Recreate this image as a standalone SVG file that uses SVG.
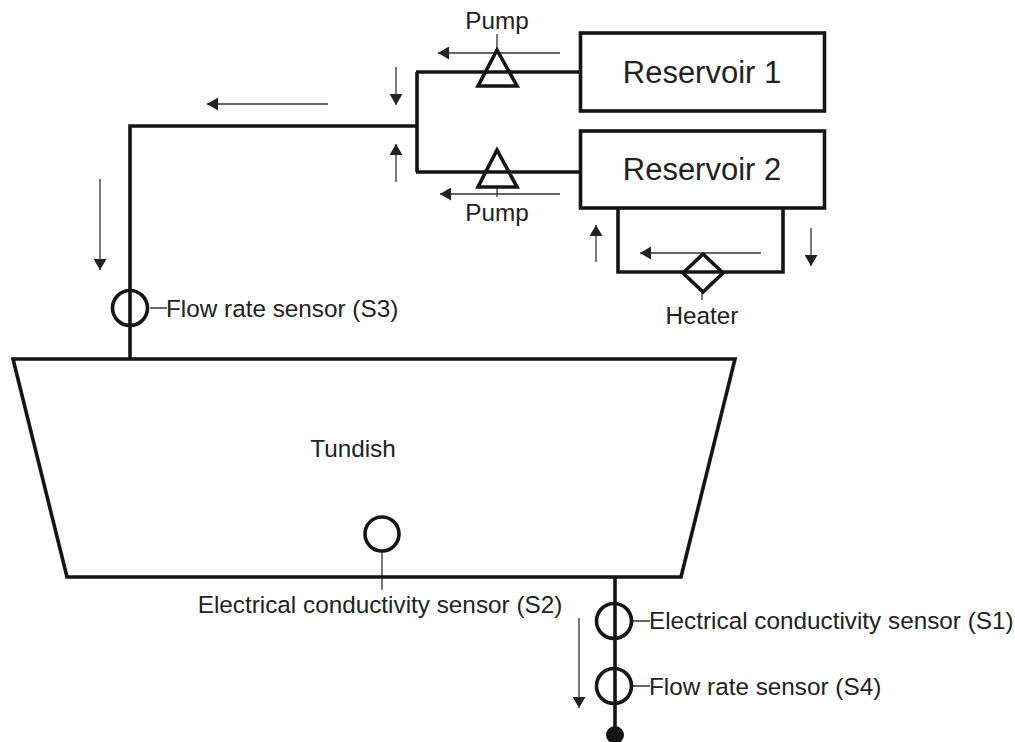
<svg xmlns="http://www.w3.org/2000/svg" width="1015" height="742" viewBox="0 0 1015 742">
<style>
text{font-family:"Liberation Sans",Arial,sans-serif;fill:#222}
.s{font-size:24.300px}
.r{font-size:31px}
.pipe{fill:none;stroke:#151515;stroke-width:3.600}
.box{fill:#fff;stroke:#151515;stroke-width:3.600}
.sym{fill:none;stroke:#151515;stroke-width:3.600}
.lead{fill:none;stroke:#333;stroke-width:1.300}
.flow{fill:none;stroke:#333;stroke-width:1.300;marker-end:url(#a)}
</style>
<defs><marker id="a" markerUnits="userSpaceOnUse" markerWidth="12" markerHeight="13" refX="11" refY="6.500" orient="auto"><path d="M0 0L11 6.500L0 13Z" fill="#222"/></marker></defs>
<rect width="1015" height="742" fill="#fff"/>
<g id="connectors">
<path class="pipe" d="M130 359V126H416M417 72V172M416 72H580M416 172H580M618 208V272H783V208M615 577V734"/>
<path class="lead" d="M497 34V50M497 187V197M702 292V300M150 308H167M382 552V590M633 621H650M633 686H650"/>
<path class="flow" d="M560 53H438"/>
<path class="flow" d="M560 194H440"/>
<path class="flow" d="M328 104H207"/>
<path class="flow" d="M396 67V105"/>
<path class="flow" d="M396 182V144"/>
<path class="flow" d="M100 179V270"/>
<path class="flow" d="M596 262V225"/>
<path class="flow" d="M811 228V266"/>
<path class="flow" d="M761 253H640"/>
<path class="flow" d="M579 618V708"/>
</g>
<g id="reservoir1"><rect class="box" x="580.500" y="33" width="244" height="78"/><text class="r" x="702" y="83" text-anchor="middle">Reservoir 1</text></g>
<g id="reservoir2"><rect class="box" x="580.500" y="131" width="244" height="77"/><text class="r" x="702" y="180" text-anchor="middle">Reservoir 2</text></g>
<g id="pump1"><path class="sym" d="M497 50L478 86H517Z"/><text class="s" x="497" y="29" text-anchor="middle">Pump</text></g>
<g id="pump2"><path class="sym" d="M497 150L478 187H517Z"/><text class="s" x="497" y="221" text-anchor="middle">Pump</text></g>
<g id="heater"><path class="sym" d="M703 254L723 273L703 292L683 273Z"/><text class="s" x="702" y="324" text-anchor="middle">Heater</text></g>
<g id="s3"><circle class="sym" cx="130" cy="308" r="17.500"/><text class="s" x="166" y="317">Flow rate sensor (S3)</text></g>
<g id="tundish"><path class="box" style="fill:none" d="M13 359H735L681 577H67Z"/><text class="s" x="353" y="457" text-anchor="middle">Tundish</text></g>
<g id="s2"><circle class="sym" cx="382" cy="534" r="17"/><text class="s" x="380" y="613" text-anchor="middle">Electrical conductivity sensor (S2)</text></g>
<g id="s1"><circle class="sym" cx="614" cy="621" r="17.500"/><text class="s" x="649" y="629">Electrical conductivity sensor (S1)</text></g>
<g id="s4"><circle class="sym" cx="614" cy="686" r="17.500"/><text class="s" x="649" y="695">Flow rate sensor (S4)</text></g>
<g id="outlet"><circle cx="615" cy="735" r="9" fill="#151515"/></g>
</svg>
